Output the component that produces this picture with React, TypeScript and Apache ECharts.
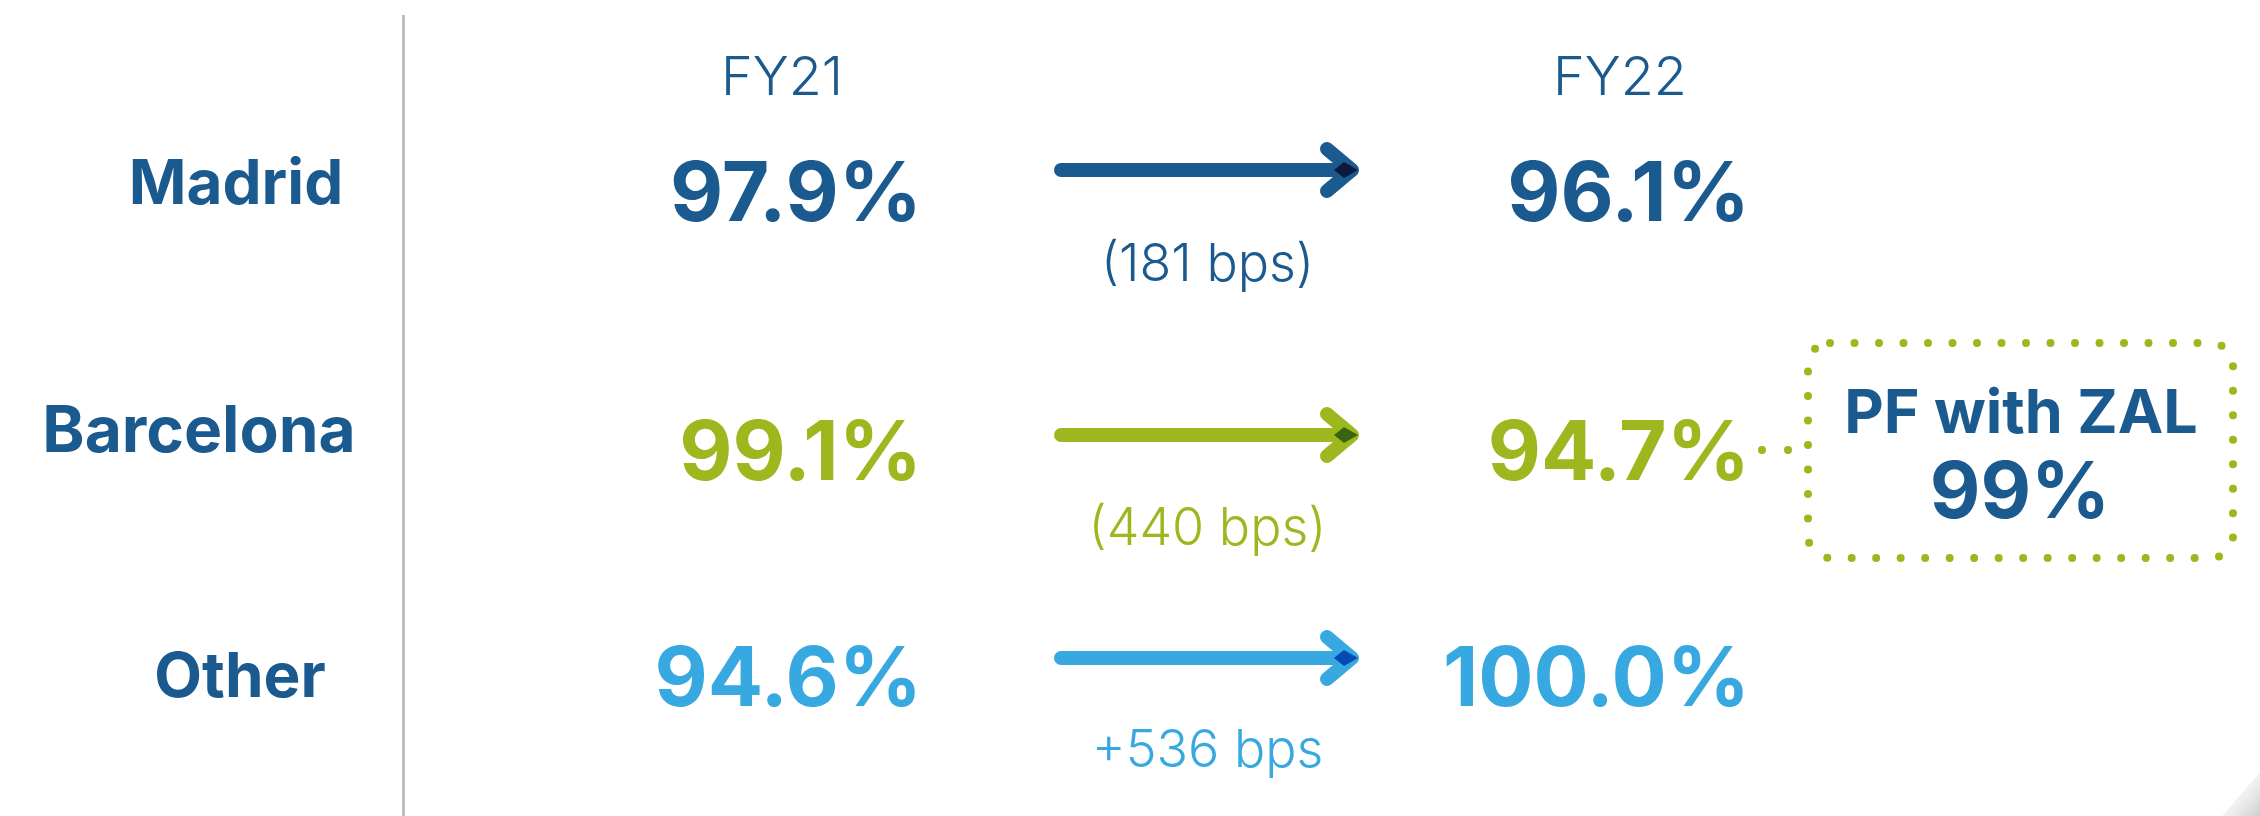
import React, { useEffect, useRef } from 'react';
import * as echarts from 'echarts';

// ---- data ----
const regions = ['Madrid', 'Barcelona', 'Other'];
const periods = ['FY21', 'FY22'];
const fy21 = [97.9, 99.1, 94.6];
const fy22 = [96.1, 94.7, 100.0];
const changeBps = [-181, -440, 536];
const pfLabel = 'PF with ZAL';
const pfValue = 99;

// ---- styles ----
const DARK = '#1B5A8F';
const rowColors = ['#1B5A8F', '#9DB81E', '#38A9E0'];
const tipColors = ['#0B1A3E', '#3B6410', '#0549B4'];
const FONT = 'Inter, "Open Sans", sans-serif';

// ---- layout ----
const labelX = [236, 199, 240];
const labelY = [181, 428, 674];
const labelSize = [62, 64, 62];
const valueY = [191, 450, 676];
const arrowY = [170, 435, 658];
const bpsY = [262, 526, 748];
const colRight = [922, 1750];
const headerX = [782, 1620];
const headerY = 75;
const arrowX0 = 1061;
const arrowX1 = 1352;

const fmtPct = (v: number) => v.toFixed(1) + '%';
const fmtBps = (v: number) => (v < 0 ? `(${Math.abs(v)} bps)` : `+${v} bps`);

export default function App() {
  const ref = useRef<HTMLDivElement>(null);
  useEffect(() => {
    document.body.style.margin = '0';
    if (!ref.current) return;
    const chart = echarts.init(ref.current, null, { renderer: 'svg' });
    const g: any[] = [];

    g.push({
      type: 'line',
      shape: { x1: 403.5, y1: 15, x2: 403.5, y2: 816 },
      style: { stroke: '#BCBEC2', lineWidth: 3 },
    });

    periods.forEach((p, i) => {
      g.push({
        type: 'text',
        x: headerX[i],
        y: headerY,
        style: {
          text: p,
          align: 'center',
          verticalAlign: 'middle',
          fill: DARK,
          fontFamily: FONT,
          fontWeight: 300,
          fontSize: 54,
        },
      });
    });

    regions.forEach((r, i) => {
      g.push({
        type: 'text',
        x: labelX[i],
        y: labelY[i],
        style: {
          text: r,
          align: 'center',
          verticalAlign: 'middle',
          fill: DARK,
          fontFamily: FONT,
          fontWeight: 700,
          fontSize: labelSize[i],
        },
      });
      [fy21[i], fy22[i]].forEach((v, j) => {
        g.push({
          type: 'text',
          x: colRight[j],
          y: valueY[i],
          style: {
            text: fmtPct(v),
            align: 'right',
            verticalAlign: 'middle',
            fill: rowColors[i],
            fontFamily: FONT,
            fontWeight: 700,
            fontSize: 82,
          },
        });
      });
      const y = arrowY[i];
      const c = rowColors[i];
      g.push({
        type: 'line',
        shape: { x1: arrowX0, y1: y, x2: arrowX1 - 4, y2: y },
        style: { stroke: c, lineWidth: 14, lineCap: 'round' },
      });
      g.push({
        type: 'polyline',
        shape: { points: [[arrowX1 - 25, y - 21], [arrowX1, y], [arrowX1 - 25, y + 21]] },
        style: { stroke: c, lineWidth: 14, lineCap: 'round', lineJoin: 'round', fill: 'none' },
      });
      g.push({
        type: 'polygon',
        shape: { points: [[arrowX1 - 18, y], [arrowX1 - 8, y - 8], [arrowX1 + 6, y], [arrowX1 - 8, y + 8]] },
        style: { fill: tipColors[i] },
      });
      g.push({
        type: 'text',
        x: (arrowX0 + arrowX1) / 2 + 1,
        y: bpsY[i],
        style: {
          text: fmtBps(changeBps[i]),
          align: 'center',
          verticalAlign: 'middle',
          fill: c,
          fontFamily: FONT,
          fontWeight: 300,
          fontSize: 52,
        },
      });
    });

    // dotted callout box
    const green = rowColors[1];
    g.push({
      type: 'rect',
      shape: { x: 1808, y: 343, width: 425, height: 215, r: 22 },
      style: { fill: 'none', stroke: green, lineWidth: 8, lineDash: [0, 24.5], lineCap: 'round' },
    });
    g.push({
      type: 'line',
      shape: { x1: 1762, y1: 450, x2: 1790, y2: 450 },
      style: { stroke: green, lineWidth: 8, lineDash: [0, 26], lineCap: 'round' },
    });
    g.push({
      type: 'text',
      x: 2021,
      y: 411,
      style: {
        text: pfLabel,
        align: 'center',
        verticalAlign: 'middle',
        fill: DARK,
        fontFamily: FONT,
        fontWeight: 700,
        fontSize: 61,
      },
    });
    g.push({
      type: 'text',
      x: 2020,
      y: 489,
      style: {
        text: pfValue + '%',
        align: 'center',
        verticalAlign: 'middle',
        fill: DARK,
        fontFamily: FONT,
        fontWeight: 700,
        fontSize: 78,
      },
    });

    // subtle page-curl shadow in the corner
    g.push({
      type: 'polygon',
      shape: { points: [[2222, 816], [2260, 772], [2260, 816]] },
      style: {
        fill: new echarts.graphic.LinearGradient(0, 0, 1, 1, [
          { offset: 0, color: 'rgba(255,255,255,0)' },
          { offset: 1, color: 'rgba(170,170,170,0.6)' },
        ]),
      },
    });

    chart.setOption({ animation: false, backgroundColor: '#ffffff', graphic: { elements: g } });
    return () => chart.dispose();
  }, []);
  return <div ref={ref} style={{ width: 2260, height: 816 }} />;
}
